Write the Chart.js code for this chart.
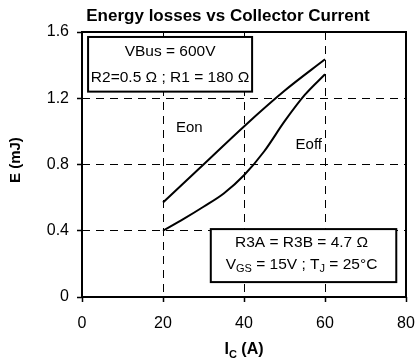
<!DOCTYPE html>
<html>
<head>
<meta charset="utf-8">
<script src="https://cdn.jsdelivr.net/npm/chart.js@4.4.1/dist/chart.umd.min.js"></script>
<style>
    html, body { margin: 0; padding: 0; background: #fff; }
    #wrap { width: 417px; height: 363px; }
</style>
</head>
<body>
<div id="wrap"><canvas id="lossChart"></canvas></div>
<script>
// values
const currentAmps = [20, 30, 40, 50, 60];
const eonValues = [0.57, 0.80, 1.03, 1.245, 1.435];
const eoffCurrent = [20, 25, 30, 35, 40, 45, 50, 55, 60];
const eoffValues = [0.40, 0.47, 0.545, 0.625, 0.735, 0.88, 1.06, 1.22, 1.345];
const xTicks = [0, 20, 40, 60, 80];
const yTicks = [0, 0.4, 0.8, 1.2, 1.6];

const chartTitle = "Energy losses vs Collector Current";
const boxTopLines = ["VBus = 600V", "R2=0.5 \u03A9 ; R1 = 180 \u03A9"];
const boxBottomLine1 = "R3A = R3B = 4.7 \u03A9";
const boxBottomLine2 = [
    { t: "V" }, { t: "GS", sub: true }, { t: " = 15V ; T" }, { t: "J", sub: true }, { t: " = 25\u00B0C" }
];
const xTitleParts = [{ t: "I" }, { t: "C", sub: true }, { t: " (A)" }];

const FONT = "Arial, 'Liberation Sans', sans-serif";

function toPoints(xs, ys) {
    return xs.map((x, i) => ({ x: x, y: ys[i] }));
}

function drawParts(ctx, parts, cx, cy, size, weight) {
    const subSize = Math.round(size * 0.68);
    let total = 0;
    parts.forEach(p => {
        ctx.font = `${weight} ${p.sub ? subSize : size}px ${FONT}`;
        p.w = ctx.measureText(p.t).width;
        total += p.w;
    });
    let x = cx - total / 2;
    ctx.textAlign = "left";
    ctx.textBaseline = "middle";
    parts.forEach(p => {
        ctx.font = `${weight} ${p.sub ? subSize : size}px ${FONT}`;
        ctx.fillText(p.t, x, p.sub ? cy + size * 0.3 : cy);
        x += p.w;
    });
}

const decorPlugin = {
    id: "decor",
    afterDatasetsDraw(chart) {
        const ctx = chart.ctx;
        const area = chart.chartArea;
        const xs = chart.scales.x;
        const ys = chart.scales.y;

        ctx.save();
        ctx.fillStyle = "#000";
        ctx.strokeStyle = "#000";

        // curve labels
        ctx.font = `15px ${FONT}`;
        ctx.textAlign = "center";
        ctx.textBaseline = "middle";
        ctx.fillText("Eon", xs.getPixelForValue(26.5), ys.getPixelForValue(1.02));
        ctx.fillText("Eoff", xs.getPixelForValue(56), ys.getPixelForValue(0.92));

        // condition boxes
        ctx.lineWidth = 2;
        const b1 = { l: xs.getPixelForValue(1.5), r: xs.getPixelForValue(42), t: ys.getPixelForValue(1.57), b: ys.getPixelForValue(1.24) };
        ctx.fillStyle = "#fff";
        ctx.fillRect(b1.l, b1.t, b1.r - b1.l, b1.b - b1.t);
        ctx.strokeRect(b1.l, b1.t, b1.r - b1.l, b1.b - b1.t);
        ctx.fillStyle = "#000";
        ctx.font = `15.5px ${FONT}`;
        ctx.textAlign = "center";
        const c1 = (b1.l + b1.r) / 2;
        ctx.fillText(boxTopLines[0], c1, ys.getPixelForValue(1.48));
        ctx.fillText(boxTopLines[1], c1, ys.getPixelForValue(1.325));

        const b2 = { l: xs.getPixelForValue(31.8), r: xs.getPixelForValue(77.6), t: ys.getPixelForValue(0.41), b: ys.getPixelForValue(0.09) };
        ctx.fillStyle = "#fff";
        ctx.fillRect(b2.l, b2.t, b2.r - b2.l, b2.b - b2.t);
        ctx.strokeRect(b2.l, b2.t, b2.r - b2.l, b2.b - b2.t);
        ctx.fillStyle = "#000";
        const c2 = (b2.l + b2.r) / 2 - 2;
        ctx.font = `15.5px ${FONT}`;
        ctx.textAlign = "center";
        ctx.fillText(boxBottomLine1, c2, ys.getPixelForValue(0.33));
        drawParts(ctx, boxBottomLine2, c2, ys.getPixelForValue(0.195), 15.5, "normal");

        // plot frame
        ctx.lineWidth = 2;
        ctx.strokeRect(area.left, area.top, area.right - area.left, area.bottom - area.top);

        // titles
        ctx.font = `bold 17px ${FONT}`;
        ctx.textAlign = "center";
        ctx.textBaseline = "middle";
        ctx.fillText(chartTitle, 228, 16);

        drawParts(ctx, xTitleParts, (area.left + area.right) / 2, 350, 16, "bold");

        ctx.translate(16, 183);
        ctx.rotate(-Math.PI / 2);
        ctx.font = `bold 15px ${FONT}`;
        ctx.fillText("E (mJ)", 0, 0);
        ctx.restore();
    }
};

const ctx = document.getElementById("lossChart").getContext("2d");

new Chart(ctx, {
    type: "line",
    data: {
        datasets: [
            {
                label: "Eon",
                data: toPoints(currentAmps, eonValues),
                borderColor: "#000",
                borderWidth: 2,
                pointRadius: 0,
                cubicInterpolationMode: "monotone"
            },
            {
                label: "Eoff",
                data: toPoints(eoffCurrent, eoffValues),
                borderColor: "#000",
                borderWidth: 2,
                pointRadius: 0,
                cubicInterpolationMode: "monotone"
            }
        ]
    },
    options: {
        responsive: true,
        maintainAspectRatio: false,
        animation: false,
        layout: {
            padding: { top: 32, right: 11, left: 0, bottom: 0 }
        },
        plugins: {
            legend: { display: false },
            tooltip: { enabled: false },
            title: { display: false }
        },
        scales: {
            x: {
                type: "linear",
                min: 0,
                max: 80,
                afterFit: s => {
                    s.height = 66;
                    s.paddingLeft = 0;
                    s.paddingRight = 0;
                },
                afterBuildTicks: s => { s.ticks = xTicks.map(v => ({ value: v })); },
                grid: {
                    color: "#000",
                    lineWidth: 1,
                    tickLength: 5,
                    tickColor: "#000",
                    tickWidth: 1.5,
                    tickBorderDash: [1, 0]
                },
                border: { display: false, dash: [8, 6] },
                ticks: {
                    color: "#000",
                    padding: 12,
                    maxRotation: 0,
                    font: { family: FONT, size: 16 }
                }
            },
            y: {
                min: 0,
                max: 1.6,
                afterFit: s => {
                    s.width = 82;
                    s.paddingTop = 0;
                    s.paddingBottom = 0;
                },
                afterBuildTicks: s => { s.ticks = yTicks.map(v => ({ value: v })); },
                grid: {
                    color: "#000",
                    lineWidth: 1,
                    tickLength: 5,
                    tickColor: "#000",
                    tickWidth: 1.5,
                    tickBorderDash: [1, 0]
                },
                border: { display: false, dash: [8, 6] },
                ticks: {
                    color: "#000",
                    padding: 8,
                    font: { family: FONT, size: 16 },
                    callback: v => (v === 0 ? "0" : v.toFixed(1))
                }
            }
        }
    },
    plugins: [decorPlugin]
});
</script>
</body>
</html>
